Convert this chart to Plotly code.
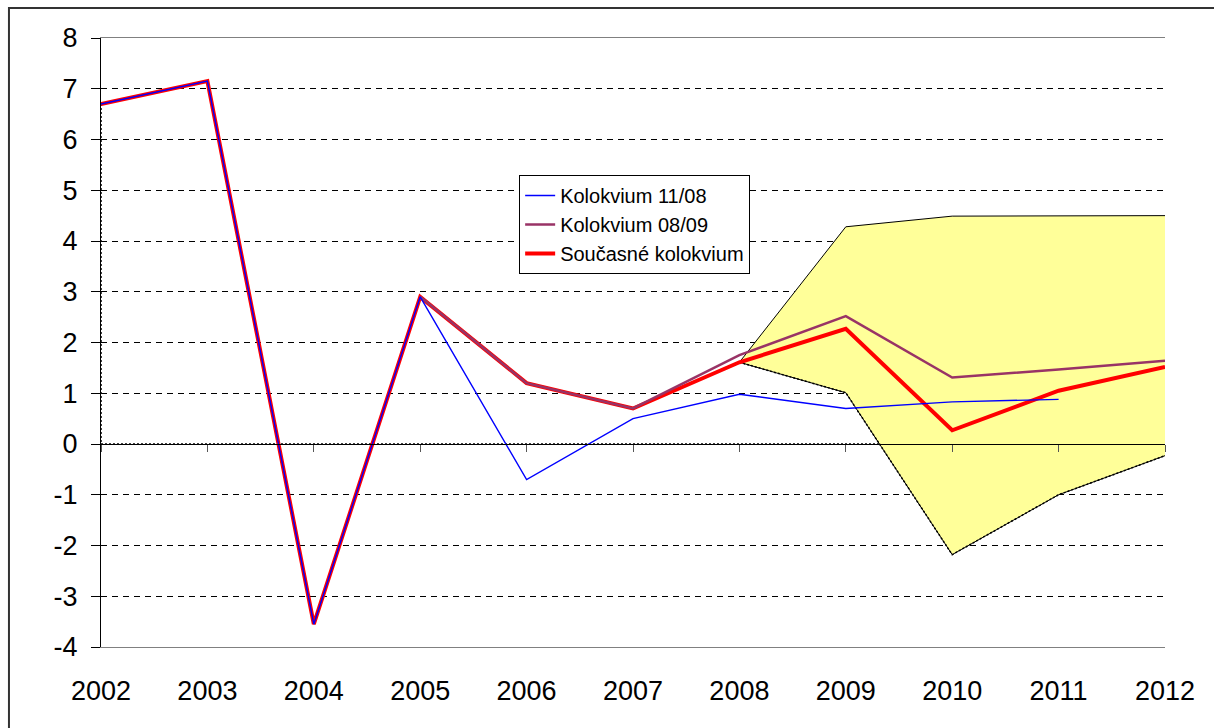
import plotly.graph_objects as go

years = [2002, 2003, 2004, 2005, 2006, 2007, 2008, 2009, 2010, 2011, 2012]
year_labels = [str(y) for y in years]

kolokvium_1108 = [6.7, 7.15, -3.55, 2.9, -0.7, 0.5, 0.98, 0.70, 0.83, 0.88, None]
kolokvium_0809 = [None, None, None, 2.9, 1.2, 0.7, 1.75, 2.52, 1.31, 1.47, 1.64]
soucasne = [6.7, 7.15, -3.55, 2.9, 1.2, 0.7, 1.61, 2.27, 0.27, 1.05, 1.52]

band_years = [2008, 2009, 2010, 2011, 2012]
band_upper = [1.61, 4.28, 4.49, 4.5, 4.5]
band_lower = [1.61, 1.01, -2.18, -1.0, -0.23]

y_ticks = list(range(-4, 9))
y_labels = [str(v) for v in y_ticks]

fig = go.Figure()

# confidence band fill
fig.add_trace(go.Scatter(
    x=band_years + band_years[::-1], y=band_upper + band_lower[::-1],
    fill='toself', fillcolor='#FFFF99', mode='lines', line=dict(width=0),
    showlegend=False, hoverinfo='skip'))
fig.add_trace(go.Scatter(x=band_years, y=band_upper, mode='lines',
                         line=dict(color='black', width=1), showlegend=False, hoverinfo='skip'))
fig.add_trace(go.Scatter(x=band_years, y=band_lower, mode='lines',
                         line=dict(color='black', width=1), showlegend=False, hoverinfo='skip'))
fig.add_trace(go.Scatter(x=band_years, y=band_lower, mode='lines',
                         line=dict(color='black', width=1.5, dash='2px,2px'), showlegend=False, hoverinfo='skip'))

# dotted base outline (left edge and along zero up to band crossing)
i = 1
cross = band_years[i] + band_lower[i] / (band_lower[i] - band_lower[i + 1]) * (band_years[i + 1] - band_years[i])
fig.add_trace(go.Scatter(x=[years[0], years[0], cross], y=[soucasne[0], 0, 0], mode='lines',
                         line=dict(color='black', width=1.5, dash='2px,2px'), showlegend=False, hoverinfo='skip'))

fig.add_trace(go.Scatter(x=years, y=soucasne, mode='lines', name='Současné kolokvium',
                         line=dict(color='#FF0000', width=4)))
fig.add_trace(go.Scatter(x=years, y=kolokvium_0809, mode='lines', name='Kolokvium 08/09',
                         line=dict(color='#993366', width=2.5)))
fig.add_trace(go.Scatter(x=years, y=kolokvium_1108, mode='lines', name='Kolokvium 11/08',
                         line=dict(color='#0000FF', width=1.4)))

# zero-crossing category axis with ticks
fig.add_trace(go.Scatter(x=years, y=[0] * len(years), xaxis='x2', mode='lines',
                         line=dict(width=0), showlegend=False, hoverinfo='skip'))

font_family = 'Liberation Sans, Arial, sans-serif'

fig.update_layout(
    width=1214, height=728,
    margin=dict(l=101, r=49, t=38, b=81),
    paper_bgcolor='white', plot_bgcolor='white',
    font=dict(family=font_family, color='black'),
    showlegend=True,
    legend=dict(x=0.393, y=0.775, xanchor='left', yanchor='top',
                traceorder='reversed', bgcolor='white', bordercolor='black', borderwidth=1,
                font=dict(size=20, family=font_family, color='black'),
                tracegroupgap=0),
    xaxis=dict(range=[years[0], years[-1]], tickvals=years, ticktext=year_labels,
               showgrid=False, zeroline=False, ticks='', showline=True, linecolor='#808080',
               linewidth=1, mirror=True, tickfont=dict(size=27), ticklabelstandoff=20),
    xaxis2=dict(range=[years[0], years[-1]], overlaying='x', anchor='free', position=4 / 12,
                tickvals=years, showticklabels=False, ticks='outside', ticklen=7,
                tickcolor='#555555', showline=True, linecolor='black', linewidth=1,
                showgrid=False, zeroline=False),
    yaxis=dict(range=[-4, 8], tickvals=y_ticks, ticktext=y_labels, showgrid=True,
               gridcolor='black', gridwidth=1,
               griddash='6px,5px', zeroline=False, showline=True, linecolor='black', linewidth=1,
               ticks='outside', ticklen=9, tickcolor='black', tickfont=dict(size=27),
               ticklabelstandoff=8),
    yaxis2=dict(range=[-4, 8], overlaying='y', side='right', anchor='x', showline=True,
                linecolor='#808080', linewidth=1, showticklabels=False, ticks='', showgrid=False,
                zeroline=False),
)

# outer chart border (extends beyond the picture at right and bottom)
fig.add_shape(type='rect', xref='paper', yref='paper', x0=-0.0865, x1=1.06, y0=-0.16, y1=1.0493,
              line=dict(color='#333333', width=2), fillcolor='rgba(0,0,0,0)', layer='above')

fig.write_html('out.html', config={'displayModeBar': False},
               post_script="document.body.style.margin='0';document.body.style.overflow='hidden';")
